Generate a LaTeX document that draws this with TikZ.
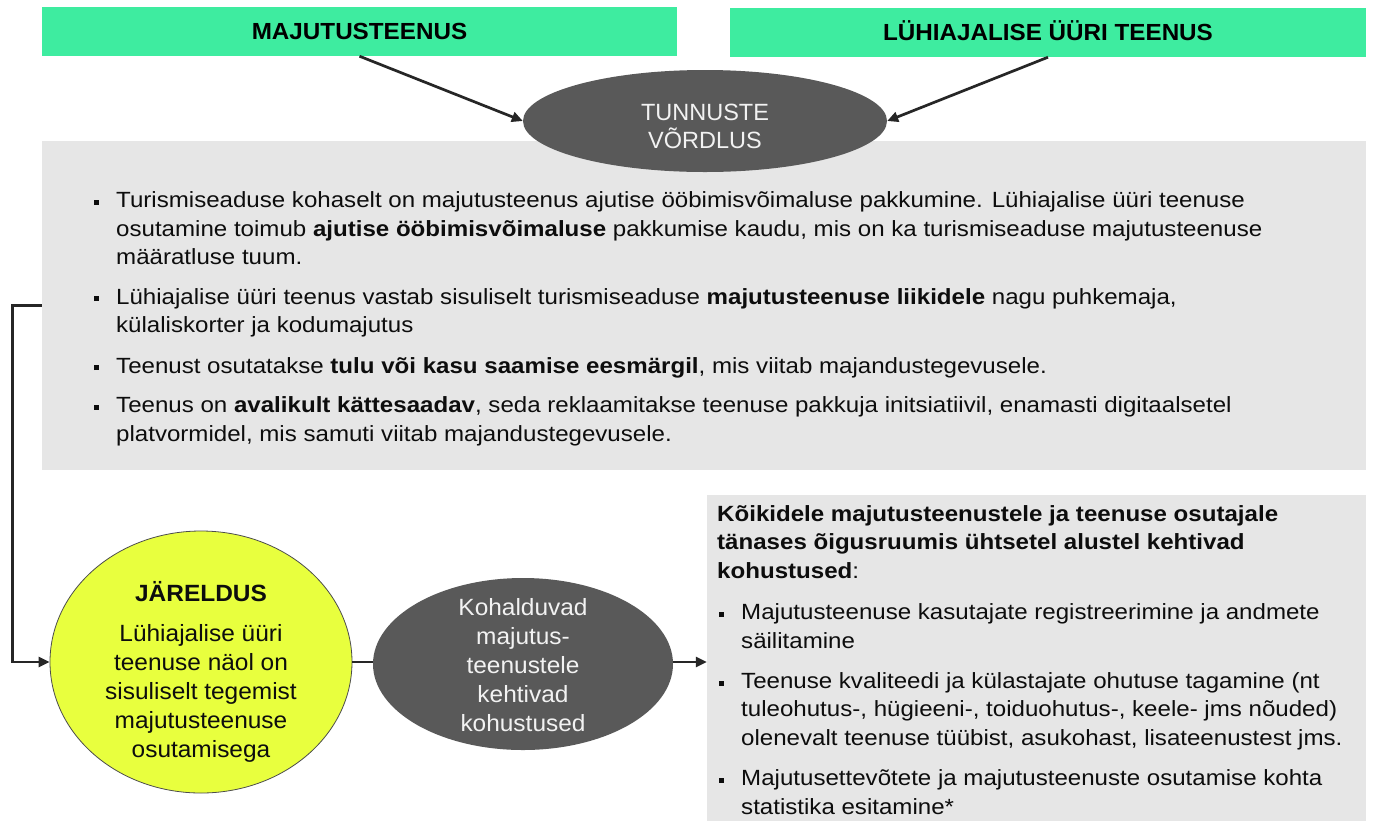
\documentclass[tikz,border=0pt]{standalone}
\usepackage{fontspec}
\setmainfont{Liberation Sans}
\newfontfamily\wideA[FakeStretch=1.095]{Liberation Sans}
\newfontfamily\wideB[FakeStretch=1.04]{Liberation Sans}
\usetikzlibrary{shapes.geometric,arrows.meta}
\definecolor{grn}{RGB}{62,236,160}
\definecolor{lgray}{RGB}{230,230,230}
\definecolor{dgray}{RGB}{89,89,89}
\definecolor{ylw}{RGB}{232,255,62}
\definecolor{ink}{RGB}{38,38,38}
\definecolor{wtxt}{RGB}{242,242,242}
\definecolor{txt}{RGB}{13,13,13}
\newcommand\Ltxt[2]{\vtop{\baselineskip=#1\lineskiplimit=-100pt\halign{##\hfil\cr#2\crcr}}}
\newcommand\Ctxt[2]{\vtop{\baselineskip=#1\lineskiplimit=-100pt\halign{\hfil##\hfil\cr#2\crcr}}}
\newcommand\bul{\makebox[22pt][l]{\rule[3pt]{5pt}{5pt}}}
\newcommand\ind{\hspace*{22pt}}
\newcommand\gapA{\noalign{\vskip11pt}}
\newcommand\gapB{\noalign{\vskip12pt}}
\tikzset{
  greenbox/.style={fill=grn, draw=none, inner sep=0pt, minimum height=49pt,
    font=\wideB\fontsize{23.3}{28}\selectfont\bfseries, text=black, text height=16.7pt, text depth=0pt},
  graybox/.style={fill=lgray, draw=none, inner sep=0pt},
  darkell/.style={ellipse, fill=dgray, draw=none, inner sep=0pt},
  yelell/.style={ellipse, fill=ylw, draw=black!70, line width=0.8pt, inner sep=0pt},
  wlabel/.style={anchor=base, inner sep=0pt, text=wtxt, font=\wideB\fontsize{23.5}{29}\selectfont},
  tlabel/.style={anchor=base, inner sep=0pt, text=wtxt, font=\fontsize{23.5}{29}\selectfont},
  blabel/.style={anchor=base, inner sep=0pt, text=txt, font=\wideB\fontsize{23.5}{29}\selectfont},
  bodytext/.style={anchor=base west, inner sep=0pt, text=txt, font=\wideA\fontsize{22}{28.5}\selectfont},
  conn/.style={draw=ink, line width=2.7pt, -{Triangle[length=11pt,width=10pt]}},
  plainline/.style={draw=ink, line width=2.7pt}
}
\begin{document}
\begin{tikzpicture}[x=1pt,y=-1pt]
\useasboundingbox[fill=white] (0,0) rectangle (1373,823);

% top boxes
\node[greenbox, minimum width=635pt] (g1) at (359.5,31.5) {MAJUTUSTEENUS};
\node[greenbox, minimum width=636pt] (g2) at (1048,32.5) {LÜHIAJALISE ÜÜRI TEENUS};

% big gray box
\node[graybox, minimum width=1324pt, minimum height=329pt] (gb) at (704,305.5) {};

% comparison ellipse
\node[darkell, minimum width=364pt, minimum height=102pt] (te) at (705,121) {};
\node[tlabel] (tl) at (705,120.5) {\Ctxt{27.5pt}{TUNNUSTE\cr VÕRDLUS}};

\draw[conn] (g1.south) -- (te.west);
\draw[conn] (g2.south) -- (te.east);

% body text
\node[bodytext] (bt) at (94,207.5) {\Ltxt{28.5pt}{%
\bul Turismiseaduse kohaselt on majutusteenus ajutise ööbimisvõimaluse pakkumine. Lühiajalise üüri teenuse\cr
\ind osutamine toimub \textbf{ajutise ööbimisvõimaluse} pakkumise kaudu, mis on ka turismiseaduse majutusteenuse\cr
\ind määratluse tuum.\cr\gapA
\bul Lühiajalise üüri teenus vastab sisuliselt turismiseaduse \textbf{majutusteenuse liikidele} nagu puhkemaja,\cr
\ind külaliskorter ja kodumajutus\cr\noalign{\vskip12pt}
\bul Teenust osutatakse \textbf{tulu või kasu saamise eesmärgil}, mis viitab majandustegevusele.\cr\gapA
\bul Teenus on \textbf{avalikult kättesaadav}, seda reklaamitakse teenuse pakkuja initsiatiivil, enamasti digitaalsetel\cr
\ind platvormidel, mis samuti viitab majandustegevusele.}};

% conclusion ellipse
\node[yelell, minimum width=302pt, minimum height=262pt] (je) at (201,662) {};
\node[blabel] (jl) at (201,601) {\Ctxt{29pt}{\bfseries JÄRELDUS\cr\gapA
Lühiajalise üüri\cr teenuse näol on\cr sisuliselt tegemist\cr majutusteenuse\cr osutamisega}};

% obligations ellipse
\node[darkell, minimum width=300pt, minimum height=172pt] (ke) at (523,664) {};
\node[wlabel] (kl) at (523,615) {\Ctxt{29pt}{Kohalduvad\cr majutus-\cr teenustele\cr kehtivad\cr kohustused}};

% right box
\node[graybox, minimum width=659pt, minimum height=326pt] (rb) at (1036.5,658) {};
\node[bodytext] (rt) at (717,521.5) {\Ltxt{28.4pt}{%
\textbf{Kõikidele majutusteenustele ja teenuse osutajale}\cr
\textbf{tänases õigusruumis ühtsetel alustel kehtivad}\cr
\textbf{kohustused}:\cr\noalign{\vskip13pt}
\hspace*{2pt}\bul Majutusteenuse kasutajate registreerimine ja andmete\cr
\hspace*{2pt}\ind säilitamine\cr\gapB
\hspace*{2pt}\bul Teenuse kvaliteedi ja külastajate ohutuse tagamine (nt\cr
\hspace*{2pt}\ind tuleohutus-, hügieeni-, toiduohutus-, keele- jms nõuded)\cr
\hspace*{2pt}\ind olenevalt teenuse tüübist, asukohast, lisateenustest jms.\cr\gapB
\hspace*{2pt}\bul Majutusettevõtete ja majutusteenuste osutamise kohta\cr
\hspace*{2pt}\ind statistika esitamine*}};

% connectors
\draw[conn] (gb.west) -- ++(-29,0) |- (je.west);
\draw[plainline] (je.east) -- (je.east -| ke.west);
\draw[conn] (ke.east |- je.east) -- (je.east -| rb.west);
\end{tikzpicture}
\end{document}
